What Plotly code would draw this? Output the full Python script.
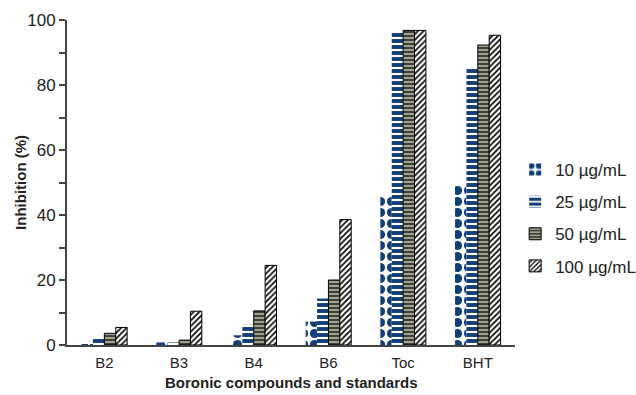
import plotly.graph_objects as go

categories = ["B2", "B3", "B4", "B6", "Toc", "BHT"]
series_names = ["10 µg/mL", "25 µg/mL", "50 µg/mL", "100 µg/mL"]
v10 = [0.3, 0.8, 3.0, 7.2, 46.0, 49.0]
v25 = [2.1, 0.8, 6.2, 14.3, 96.0, 85.0]
v50 = [3.6, 1.5, 10.5, 20.0, 96.8, 92.3]
v100 = [5.4, 10.4, 24.5, 38.6, 96.8, 95.3]
y_ticks = [0, 20, 40, 60, 80, 100]

font_family = "Arial, Liberation Sans, sans-serif"
blue = "#123f78"
olive = "#3e4330"

styles = [
    dict(color="white", pattern=dict(shape=".", fgcolor=blue, bgcolor="white", size=11, solidity=0.55,
                                     fillmode="overlay", fgopacity=1),
         line=dict(width=0)),
    dict(color="white", pattern=dict(shape="-", fgcolor=blue, bgcolor="white", size=6, solidity=0.65,
                                     fillmode="overlay", fgopacity=1),
         line=dict(width=0)),
    dict(color=olive, pattern=dict(shape="-", fgcolor="white", bgcolor=olive, size=4, solidity=0.25,
                                   fillmode="overlay", fgopacity=1),
         line=dict(width=1, color="black")),
    dict(color="white", pattern=dict(shape="/", fgcolor="black", bgcolor="white", size=4, solidity=0.4,
                                     fillmode="overlay", fgopacity=1),
         line=dict(width=1, color="black")),
]

fig = go.Figure()
for i, (name, vals) in enumerate(zip(series_names, [v10, v25, v50, v100])):
    st = styles[i]
    fig.add_trace(go.Bar(
        x=categories, y=vals, name=name, legendgroup=f"g{i}",
        marker=dict(color=st["color"], pattern=st["pattern"], line=st["line"]),
    ))

fig.update_layout(
    width=636, height=395,
    margin=dict(l=67, r=117, t=20, b=50),
    paper_bgcolor="white", plot_bgcolor="white",
    barmode="group", bargap=0.39, bargroupgap=0.0,
    font=dict(family=font_family, size=15, color="#222"),
    legend=dict(xref="container", yref="container", x=0.81, y=0.448, xanchor="left", yanchor="middle",
                traceorder="grouped", tracegroupgap=7,
                font=dict(size=17, family=font_family, color="#222"),
                itemwidth=30, bgcolor="rgba(0,0,0,0)"),
    showlegend=True,
    annotations=[
        dict(text="<b>Inhibition (%)</b>", xref="paper", yref="paper", x=-0.104, y=0.5,
             textangle=-90, showarrow=False, xanchor="center", yanchor="middle",
             font=dict(size=15, family=font_family, color="#222")),
        dict(text="<b>Boronic compounds and standards</b>", xref="paper", yref="paper", x=0.5, y=-0.114,
             showarrow=False, xanchor="center", yanchor="middle",
             font=dict(size=15, family=font_family, color="#222")),
    ],
)
fig.update_xaxes(
    showline=True, linecolor="#444", linewidth=2, ticks="", automargin=False,
    tickfont=dict(size=15), showgrid=False, ticklabelstandoff=3,
)
fig.update_yaxes(
    range=[0, 100], tickvals=y_ticks, showline=True, linecolor="#444", linewidth=2,
    ticks="outside", ticklen=6, tickcolor="#444", tickwidth=1.5,
    minor=dict(dtick=10, tick0=0, ticks="outside", ticklen=6, tickcolor="#444", tickwidth=1.5),
    tickfont=dict(size=17), showgrid=False, zeroline=False, automargin=False,
)

fig.write_html("out.html")
